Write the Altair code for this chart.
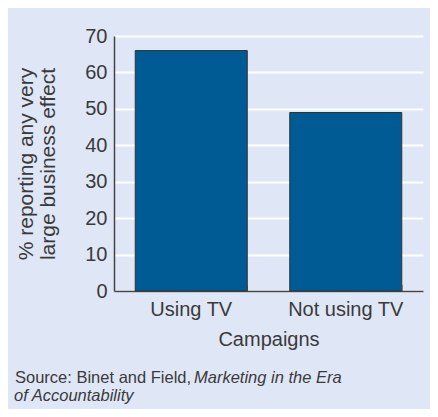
import altair as alt
import pandas as pd

categories = ["Using TV", "Not using TV"]
values = [66, 49]
y_ticks = [0, 10, 20, 30, 40, 50, 60, 70]
y_title = ["% reporting any very", "large business effect"]
x_title = "Campaigns"
source_plain = "Source: Binet and Field,"
source_italic_1 = "Marketing in the Era"
source_italic_2 = "of Accountability"

FONT = "Liberation Sans"
TXT = "#3a3a3a"
BG = "#dfe7f6"
BAR = "#005a94"

df = pd.DataFrame({"cat": categories, "val": values})

x_enc = alt.X(
    "cat:N",
    sort=categories,
    scale=alt.Scale(paddingInner=0.275, paddingOuter=0.1375),
    axis=alt.Axis(
        title=x_title, labelAngle=0, ticks=False, grid=False,
        domainColor="#444444", domainWidth=1.5,
        labelFontSize=20, titleFontSize=20, labelPadding=8, titlePadding=10,
        labelColor=TXT, titleColor=TXT, labelFont=FONT, titleFont=FONT,
        titleFontWeight="normal",
    ),
)

bars = alt.Chart(df).mark_bar(color=BAR, stroke="#333333", strokeWidth=1).encode(
    x=x_enc,
    y=alt.Y(
        "val:Q",
        scale=alt.Scale(domain=[0, 70], nice=False),
        axis=alt.Axis(
            title=y_title, values=y_ticks, ticks=False, grid=True,
            gridColor="white", gridWidth=2, domainColor="#444444", domainWidth=1.5,
            labelFontSize=20, titleFontSize=21, labelPadding=7, titlePadding=26,
            titleLineHeight=22,
            labelColor=TXT, titleColor=TXT, labelFont=FONT, titleFont=FONT,
            titleFontWeight="normal",
        ),
    ),
)

ticks = alt.Chart(df).mark_rule(color="#444444", strokeWidth=1.5).encode(
    x=alt.X("cat:N", sort=categories, bandPosition=1),
    y=alt.value(249),
    y2=alt.value(255),
)

src1 = alt.Chart(pd.DataFrame({"t": [source_plain]})).mark_text(
    align="left", baseline="middle", fontSize=16.5, font=FONT, color=TXT
).encode(text="t:N", x=alt.value(-99), y=alt.value(342))

src2 = alt.Chart(pd.DataFrame({"t": [source_italic_1]})).mark_text(
    align="left", baseline="middle", fontSize=16.5, font=FONT, color=TXT, fontStyle="italic"
).encode(text="t:N", x=alt.value(80), y=alt.value(342))

src3 = alt.Chart(pd.DataFrame({"t": [source_italic_2]})).mark_text(
    align="left", baseline="middle", fontSize=16.5, font=FONT, color=TXT, fontStyle="italic"
).encode(text="t:N", x=alt.value(-100), y=alt.value(360))

chart = alt.layer(bars, ticks, src1, src2, src3).properties(
    width=309, height=255,
    autosize=alt.AutoSizeParams(type="none"),
    padding={"left": 106, "top": 28, "right": 7, "bottom": 118},
    background=BG,
).configure_view(strokeWidth=0)

chart.save("out.html", embed_options={"renderer": "svg", "actions": False})
